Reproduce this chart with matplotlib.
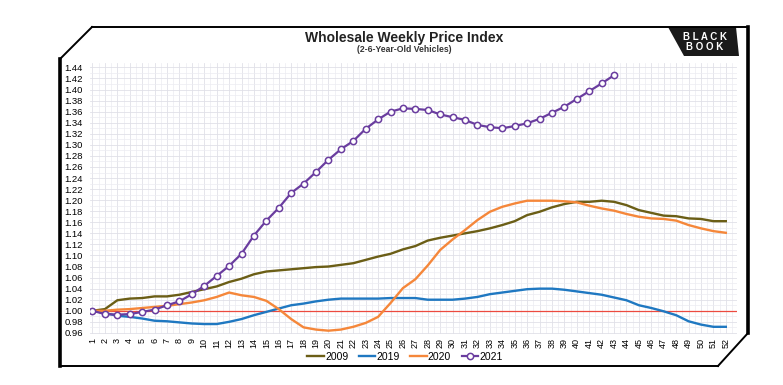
import matplotlib
matplotlib.use("Agg")
import matplotlib.pyplot as plt
from matplotlib.lines import Line2D
from matplotlib.patches import Polygon
from matplotlib.ticker import MultipleLocator

plt.rcParams['font.family'] = ['Liberation Sans', 'DejaVu Sans']

weeks = list(range(1, 53))
v2009 = [1.000, 1.003, 1.019, 1.022, 1.023, 1.026, 1.026, 1.029, 1.034, 1.039,
         1.044, 1.052, 1.058, 1.066, 1.071, 1.073, 1.075, 1.077, 1.079, 1.080,
         1.083, 1.086, 1.092, 1.098, 1.103, 1.111, 1.117, 1.127, 1.132, 1.136,
         1.140, 1.144, 1.149, 1.155, 1.162, 1.173, 1.179, 1.187, 1.193, 1.197,
         1.197, 1.199, 1.197, 1.191, 1.182, 1.177, 1.172, 1.171, 1.167, 1.166,
         1.162, 1.162]
v2019 = [1.000, 0.996, 0.991, 0.989, 0.986, 0.982, 0.981, 0.979, 0.977, 0.976,
         0.976, 0.980, 0.985, 0.992, 0.998, 1.004, 1.010, 1.013, 1.017, 1.020,
         1.022, 1.022, 1.022, 1.022, 1.023, 1.023, 1.023, 1.020, 1.020, 1.020,
         1.022, 1.025, 1.030, 1.033, 1.036, 1.039, 1.040, 1.040, 1.038, 1.035,
         1.032, 1.029, 1.024, 1.019, 1.010, 1.005, 0.999, 0.992, 0.981, 0.975,
         0.971, 0.971]
v2020 = [1.000, 1.000, 1.002, 1.003, 1.005, 1.007, 1.009, 1.012, 1.015, 1.019,
         1.025, 1.033, 1.028, 1.025, 1.018, 1.003, 0.985, 0.970, 0.966, 0.964,
         0.966, 0.971, 0.978, 0.989, 1.014, 1.041, 1.057, 1.082, 1.110, 1.129,
         1.146, 1.164, 1.179, 1.188, 1.194, 1.199, 1.199, 1.199, 1.198, 1.196,
         1.190, 1.185, 1.181, 1.175, 1.170, 1.167, 1.166, 1.163, 1.155, 1.149,
         1.144, 1.141]
v2021 = [1.000, 0.994, 0.993, 0.994, 0.998, 1.002, 1.010, 1.017, 1.030, 1.045,
         1.063, 1.081, 1.103, 1.136, 1.163, 1.186, 1.213, 1.230, 1.251, 1.273,
         1.292, 1.307, 1.329, 1.346, 1.360, 1.366, 1.365, 1.363, 1.355, 1.350,
         1.345, 1.336, 1.332, 1.330, 1.334, 1.339, 1.347, 1.358, 1.369, 1.383,
         1.397, 1.411, 1.426]

W, H = 783, 385
fig = plt.figure(figsize=(W / 100, H / 100), dpi=100)
ax = fig.add_axes([90 / W, 1 - 334 / H, (737 - 90) / W, (334 - 63) / H])

ax.plot(weeks, v2009, color='#6b5e16', lw=1.7, label='2009', zorder=3)
ax.plot(weeks, v2019, color='#1f78c1', lw=1.7, label='2019', zorder=3)
ax.plot(weeks, v2020, color='#f5873a', lw=1.7, label='2020', zorder=3)
ax.plot(weeks[:len(v2021)], v2021, color='#6a3d9f', lw=1.6, marker='o', ms=4.5,
        mfc='white', mec='#6a3d9f', mew=1.1, label='2021', zorder=4)
ax.axhline(1.0, color='#ec4a3f', lw=0.9, zorder=2)

ax.set_xlim(0.8, 52.9)
ax.set_ylim(0.958, 1.448)
ax.set_xticks(weeks)
ax.set_xticklabels([str(w) for w in weeks], rotation=90, fontsize=6.5)
ax.yaxis.set_major_locator(MultipleLocator(0.02))
ax.yaxis.set_major_formatter(lambda v, p: f'{v:.2f}')
ax.tick_params(axis='y', labelsize=6.8, length=0, pad=5)
ax.tick_params(axis='x', length=0, pad=3)
ax.xaxis.set_minor_locator(MultipleLocator(0.5))
ax.yaxis.set_minor_locator(MultipleLocator(0.01))
ax.grid(True, which='major', color='#e0e0e8', lw=0.6)
ax.grid(True, which='minor', color='#ececf1', lw=0.5)
ax.tick_params(which='minor', length=0)
for s in ax.spines.values():
    s.set_visible(False)

leg = fig.legend(loc='center', bbox_to_anchor=(405 / W, 1 - 357 / H), ncol=4,
                 frameon=False, fontsize=7.5, handlelength=1.6, columnspacing=1.0,
                 handletextpad=0.1)

fig.text(404 / W, 1 - 38 / H, 'Wholesale Weekly Price Index', ha='center',
         va='center', fontsize=10, fontweight='bold', color='#222222')
fig.text(404 / W, 1 - 49 / H, '(2-6-Year-Old Vehicles)', ha='center',
         va='center', fontsize=6.2, fontweight='bold', color='#333333')


def px(x, y):
    return (x / W, 1 - y / H)


# frame with cut corners
frame = [(92, 27), (748, 27), (748, 333), (718, 366), (60, 366), (60, 59), (92, 27)]
for (x0, y0), (x1, y1) in zip(frame[:-1], frame[1:]):
    lw = 2.6 if x0 == x1 else 1.4
    a, b = px(x0, y0), px(x1, y1)
    fig.add_artist(Line2D([a[0], b[0]], [a[1], b[1]], color='black', lw=lw))

# logo
logo = Polygon([px(668, 27), px(736, 27), px(739, 56), px(684, 56)],
               closed=True, facecolor='#1a1a1a', edgecolor='none',
               transform=fig.transFigure)
fig.add_artist(logo)
fig.text(705 / W, 1 - 36.5 / H, 'B L A C K', ha='center', va='center',
         fontsize=7, color='white', fontweight='bold')
fig.text(705 / W, 1 - 47.5 / H, 'B O O K', ha='center', va='center',
         fontsize=7, color='white', fontweight='bold')

fig.savefig('out.png', dpi=100)
